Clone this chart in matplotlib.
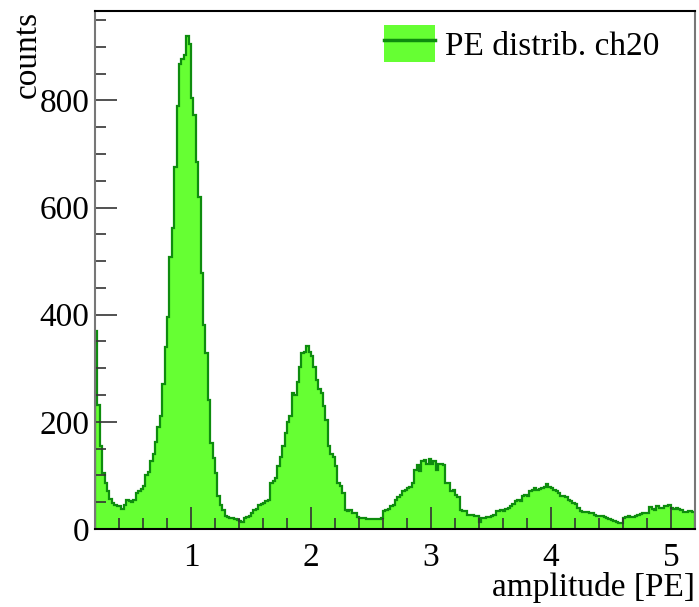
import numpy as np
import matplotlib
matplotlib.use("Agg")
import matplotlib.pyplot as plt
from matplotlib.patches import Patch
from matplotlib.lines import Line2D
from matplotlib.legend_handler import HandlerTuple
from matplotlib.ticker import MultipleLocator

plt.rcParams["font.family"] = ["Liberation Serif", "DejaVu Serif"]

# histogram: 250 bins of 0.02 PE between 0.2 and 5.2
bin_lo = 0.2
bin_hi = 5.2
n_bins = 250
counts = [
    # 0.2 - 1.0
    370, 232, 155, 105, 85, 70, 56, 48, 45, 42,
    42, 38, 44, 55, 52, 50, 55, 67, 70, 75,
    80, 100, 106, 127, 140, 162, 190, 210, 270, 340,
    395, 508, 562, 675, 790, 868, 878, 885, 921, 905,
    # 1.0 - 2.0
    804, 772, 685, 620, 477, 381, 328, 241, 161, 133,
    105, 62, 45, 36, 24, 22, 20, 20, 18, 17,
    15, 14, 20, 22, 24, 30, 36, 38, 45, 47,
    48, 52, 55, 86, 90, 95, 117, 135, 154, 180,
    200, 210, 254, 250, 275, 303, 328, 331, 342, 330,
    # 2.0 - 3.0
    322, 303, 278, 262, 254, 230, 204, 154, 140, 135,
    117, 86, 80, 67, 35, 33, 35, 30, 30, 22,
    21, 20, 20, 19, 19, 19, 19, 19, 19, 20,
    33, 35, 38, 42, 45, 55, 60, 64, 70, 73,
    76, 78, 86, 110, 120, 108, 126, 128, 122, 131,
    # 3.0 - 4.0
    122, 126, 110, 122, 122, 120, 86, 86, 70, 73,
    64, 60, 35, 33, 33, 27, 27, 27, 25, 25,
    14, 20, 21, 23, 23, 25, 27, 33, 34, 36,
    33, 37, 40, 42, 46, 52, 55, 52, 62, 64,
    61, 70, 73, 76, 73, 75, 76, 79, 84, 78,
    # 4.0 - 5.2
    76, 72, 70, 67, 62, 61, 60, 55, 52, 48,
    46, 39, 33, 32, 32, 31, 30, 30, 26, 25,
    24, 25, 22, 20, 19, 17, 15, 14, 12, 11,
    20, 22, 24, 23, 22, 24, 27, 28, 29, 30,
    30, 41, 38, 36, 43, 40, 39, 43, 42, 45,
    40, 37, 39, 38, 36, 32, 31, 33, 33, 32,
]
x_label = "amplitude [PE]"
y_label = "counts"
legend_label = "PE distrib. ch20"

edges = np.linspace(bin_lo, bin_hi, n_bins + 1)
fill_col = "#66ff33"
line_col = "#0e8c0e"
fs = 24

fig = plt.figure(figsize=(6.99, 6.07), dpi=100)
ax = fig.add_axes([0.136, 0.1285, 0.858, 0.8535])

ax.stairs(counts, edges, fill=True, facecolor=fill_col, edgecolor="none")
ax.stairs(counts, edges, color=line_col, linewidth=1.6)

ax.set_xlim(bin_lo, bin_hi)
ax.set_ylim(0, 1.05 * max(counts))

ax.xaxis.set_major_locator(MultipleLocator(1))
ax.xaxis.set_minor_locator(MultipleLocator(0.2))
ax.yaxis.set_major_locator(MultipleLocator(200))
ax.yaxis.set_minor_locator(MultipleLocator(50))
ax.tick_params(which="both", direction="in", top=False, right=False,
               labelsize=fs, color="#333333")
ax.tick_params(which="major", length=16, width=1.2)
ax.tick_params(which="minor", length=8, width=1.2)
ax.tick_params(axis="x", pad=10)
ax.tick_params(axis="y", pad=4)

for side in ["top", "bottom"]:
    ax.spines[side].set_linewidth(1.5)
    ax.spines[side].set_color("black")
for side in ["left", "right"]:
    ax.spines[side].set_linewidth(1.5)
    ax.spines[side].set_color("#777777")

ax.set_xlabel(x_label, fontsize=fs, loc="right")
ax.set_ylabel(y_label, fontsize=fs, loc="top")
ax.xaxis.set_label_coords(1.0, -0.083)
ax.yaxis.set_label_coords(-0.088, 1.0)

handle = (Patch(facecolor=fill_col, edgecolor="none"),
          Line2D([], [], color=line_col, linewidth=2.5))
ax.legend([handle], [legend_label], handler_map={tuple: HandlerTuple(ndivide=1)},
          loc="upper right", bbox_to_anchor=(0.975, 1.012), frameon=False,
          fontsize=fs, handlelength=1.55, handleheight=1.35, handletextpad=0.3,
          borderaxespad=0.2)

fig.savefig("out.png", dpi=100)
plt.close(fig)
